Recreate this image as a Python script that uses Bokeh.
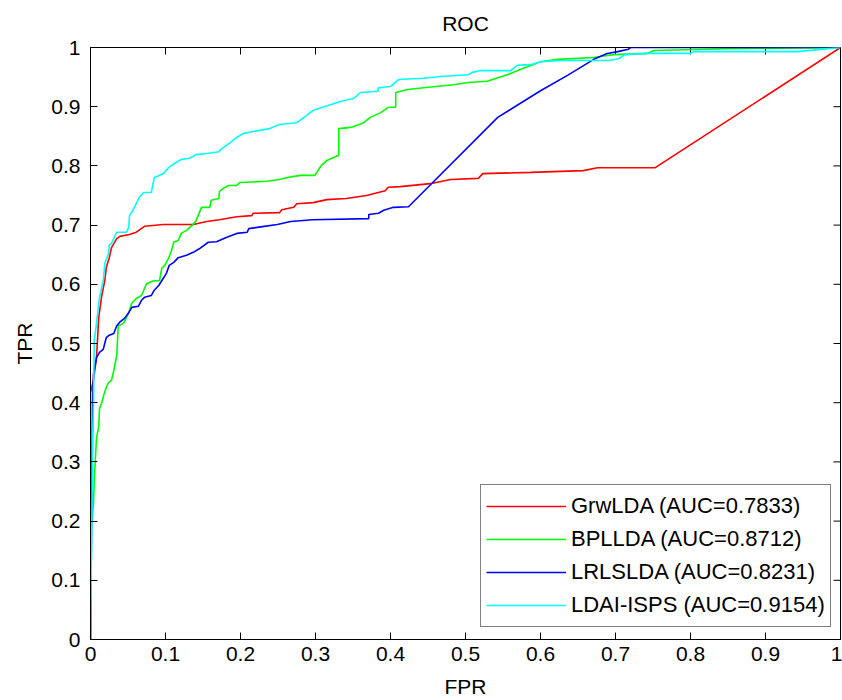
import math
from bokeh.plotting import figure
from bokeh.models import (FixedTicker, CustomJSTickFormatter, Range1d,
                          Legend, LegendItem)
from bokeh.embed import file_html
from bokeh.resources import INLINE

# ---------------- data ----------------
tick_values = [0.0, 0.1, 0.2, 0.3, 0.4, 0.5, 0.6, 0.7, 0.8, 0.9, 1.0]

series_names = ["GrwLDA", "BPLLDA", "LRLSLDA", "LDAI-ISPS"]
series_auc = [0.7833, 0.8712, 0.8231, 0.9154]
series_colors = ["#ff0000", "#00ff00", "#0000ff", "#00ffff"]

grw_fpr = [0, 0, 0.004, 0.008, 0.011, 0.015, 0.019, 0.021, 0.025, 0.028, 0.035, 0.039,
           0.052, 0.061, 0.072, 0.097, 0.137, 0.155, 0.172, 0.195, 0.215, 0.217, 0.252,
           0.255, 0.271, 0.275, 0.297, 0.315, 0.341, 0.368, 0.393, 0.397, 0.413, 0.453,
           0.480, 0.517, 0.523, 0.587, 0.657, 0.676, 0.753, 1.0]
grw_tpr = [0, 0.417, 0.438, 0.476, 0.544, 0.581, 0.606, 0.628, 0.645, 0.662, 0.677, 0.681,
           0.684, 0.688, 0.698, 0.701, 0.701, 0.706, 0.709, 0.714, 0.716, 0.720, 0.721,
           0.726, 0.730, 0.736, 0.738, 0.743, 0.745, 0.750, 0.758, 0.764, 0.765, 0.770,
           0.777, 0.779, 0.787, 0.789, 0.792, 0.797, 0.797, 1.0]

bpl_fpr = [0, 0.001, 0.004, 0.005, 0.008, 0.011, 0.012, 0.015, 0.017, 0.021, 0.024, 0.028,
           0.031, 0.035, 0.037, 0.044, 0.048, 0.052, 0.055, 0.061, 0.068, 0.072, 0.075,
           0.084, 0.092, 0.095, 0.099, 0.104, 0.108, 0.111, 0.117, 0.121, 0.128, 0.135,
           0.141, 0.148, 0.159, 0.161, 0.171, 0.172, 0.177, 0.184, 0.195, 0.199, 0.235,
           0.252, 0.261, 0.279, 0.299, 0.308, 0.315, 0.331, 0.331, 0.347, 0.363, 0.373,
           0.387, 0.397, 0.407, 0.407, 0.423, 0.444, 0.484, 0.503, 0.529, 0.543, 0.556,
           0.573, 0.600, 0.623, 0.671, 0.697, 0.743, 0.751, 0.850, 1.0]
bpl_tpr = [0, 0.190, 0.230, 0.270, 0.340, 0.360, 0.390, 0.400, 0.410, 0.426, 0.434, 0.438,
           0.454, 0.480, 0.530, 0.534, 0.544, 0.556, 0.568, 0.576, 0.581, 0.593, 0.601,
           0.606, 0.606, 0.627, 0.632, 0.644, 0.657, 0.671, 0.674, 0.686, 0.691, 0.699,
           0.708, 0.730, 0.730, 0.742, 0.745, 0.757, 0.762, 0.767, 0.767, 0.772, 0.774,
           0.777, 0.780, 0.784, 0.784, 0.801, 0.809, 0.818, 0.863, 0.865, 0.872, 0.882,
           0.890, 0.899, 0.899, 0.924, 0.929, 0.932, 0.937, 0.941, 0.943, 0.949, 0.954,
           0.963, 0.976, 0.980, 0.983, 0.988, 0.990, 0.995, 0.998, 1.0]

lrl_fpr = [0, 0.003, 0.004, 0.008, 0.012, 0.017, 0.019, 0.021, 0.025, 0.031, 0.035, 0.039,
           0.045, 0.051, 0.055, 0.064, 0.068, 0.072, 0.081, 0.085, 0.091, 0.095, 0.101,
           0.105, 0.111, 0.117, 0.128, 0.137, 0.145, 0.157, 0.168, 0.181, 0.195, 0.209,
           0.211, 0.227, 0.249, 0.267, 0.296, 0.371, 0.371, 0.384, 0.391, 0.404, 0.424,
           0.543, 0.600, 0.636, 0.671, 0.689, 0.703, 0.717, 0.720, 1.0]
lrl_tpr = [0, 0.410, 0.449, 0.476, 0.485, 0.490, 0.500, 0.510, 0.514, 0.517, 0.530, 0.536,
           0.542, 0.552, 0.561, 0.563, 0.573, 0.578, 0.581, 0.590, 0.598, 0.606, 0.618,
           0.632, 0.637, 0.645, 0.649, 0.654, 0.660, 0.671, 0.672, 0.679, 0.686, 0.688,
           0.694, 0.697, 0.701, 0.706, 0.709, 0.711, 0.718, 0.720, 0.725, 0.730, 0.731,
           0.882, 0.927, 0.953, 0.980, 0.990, 0.993, 0.997, 1.0, 1.0]

ldai_fpr = [0, 0.003, 0.004, 0.005, 0.008, 0.012, 0.017, 0.019, 0.024, 0.025, 0.028, 0.035,
            0.048, 0.051, 0.052, 0.057, 0.065, 0.071, 0.081, 0.085, 0.097, 0.104, 0.112,
            0.121, 0.132, 0.141, 0.155, 0.171, 0.177, 0.185, 0.195, 0.204, 0.217, 0.239,
            0.252, 0.275, 0.288, 0.297, 0.324, 0.337, 0.351, 0.360, 0.383, 0.384, 0.400,
            0.411, 0.444, 0.467, 0.504, 0.509, 0.520, 0.560, 0.569, 0.587, 0.600, 0.627,
            0.691, 0.704, 0.713, 0.743, 0.800, 0.804, 0.943, 1.0]
ldai_tpr = [0, 0.341, 0.404, 0.505, 0.534, 0.578, 0.606, 0.635, 0.652, 0.666, 0.669, 0.688,
            0.688, 0.696, 0.716, 0.726, 0.747, 0.755, 0.755, 0.780, 0.787, 0.797, 0.804,
            0.811, 0.813, 0.819, 0.821, 0.824, 0.831, 0.838, 0.848, 0.855, 0.858, 0.863,
            0.870, 0.873, 0.885, 0.894, 0.905, 0.910, 0.914, 0.924, 0.926, 0.932, 0.934,
            0.946, 0.948, 0.951, 0.954, 0.958, 0.961, 0.961, 0.970, 0.971, 0.976, 0.978,
            0.978, 0.981, 0.988, 0.990, 0.990, 0.993, 0.993, 1.0]

series_fpr = [grw_fpr, bpl_fpr, lrl_fpr, ldai_fpr]
series_tpr = [grw_tpr, bpl_tpr, lrl_tpr, ldai_tpr]

# ---------------- figure ----------------
FONT = "Liberation Sans"

p = figure(frame_width=750, frame_height=592, output_backend="svg", toolbar_location=None,
           x_range=Range1d(0, 1), y_range=Range1d(0, 1),
           min_border_left=90, min_border_right=2, min_border_top=47, min_border_bottom=61,
           title="ROC", x_axis_label="FPR", y_axis_label="TPR",
           background_fill_color="white", border_fill_color="white")

p.title.align = "center"
p.title.vertical_align = "top"
p.title.text_font = FONT
p.title.text_font_style = "normal"
p.title.text_font_size = "21px"
p.title.text_color = "black"
p.title.standoff = 22

p.xgrid.visible = False
p.ygrid.visible = False
p.outline_line_color = "black"
p.outline_line_width = 1

fmt = CustomJSTickFormatter(code="return Number(tick.toFixed(1)).toString();")

for ax in (p.xaxis[0], p.yaxis[0]):
    ax.ticker = FixedTicker(ticks=tick_values)
    ax.formatter = fmt
    ax.major_tick_in = 7
    ax.major_tick_out = 0
    ax.minor_tick_line_color = None
    ax.major_tick_line_color = "black"
    ax.axis_line_color = "black"
    ax.major_label_text_font = FONT
    ax.major_label_text_font_size = "21px"
    ax.major_label_text_color = "black"
    ax.axis_label_text_font = FONT
    ax.axis_label_text_font_size = "21px"
    ax.axis_label_text_font_style = "normal"
    ax.axis_label_text_color = "black"

p.xaxis[0].major_label_standoff = 7
p.xaxis[0].axis_label_standoff = 11
p.yaxis[0].major_label_standoff = 10
p.yaxis[0].axis_label_standoff = 12

# mirrored inward ticks on top and right edges (MATLAB box style), clipped to the frame
p.scatter(x=tick_values, y=[1.0] * len(tick_values), marker="dash", size=14,
          angle=math.pi / 2, line_color="black", line_width=1)
p.scatter(x=[1.0] * len(tick_values), y=tick_values, marker="dash", size=14,
          line_color="black", line_width=1)

renderers = []
for fpr, tpr, col in zip(series_fpr, series_tpr, series_colors):
    r = p.line(fpr, tpr, line_color=col, line_width=1.6)
    renderers.append(r)

items = [LegendItem(label=f"{n} (AUC={a:.4f})", renderers=[r])
         for n, a, r in zip(series_names, series_auc, renderers)]
legend = Legend(items=items, location=(390, 12), orientation="vertical",
                label_text_font=FONT, label_text_font_size="22px", label_text_color="black",
                glyph_width=80, glyph_height=32, label_height=32, label_standoff=5,
                spacing=1, padding=5, margin=0,
                border_line_color="black", border_line_width=1,
                background_fill_color="white", background_fill_alpha=1.0)
p.add_layout(legend, "center")

open("out.html", "w").write(file_html(p, INLINE))
